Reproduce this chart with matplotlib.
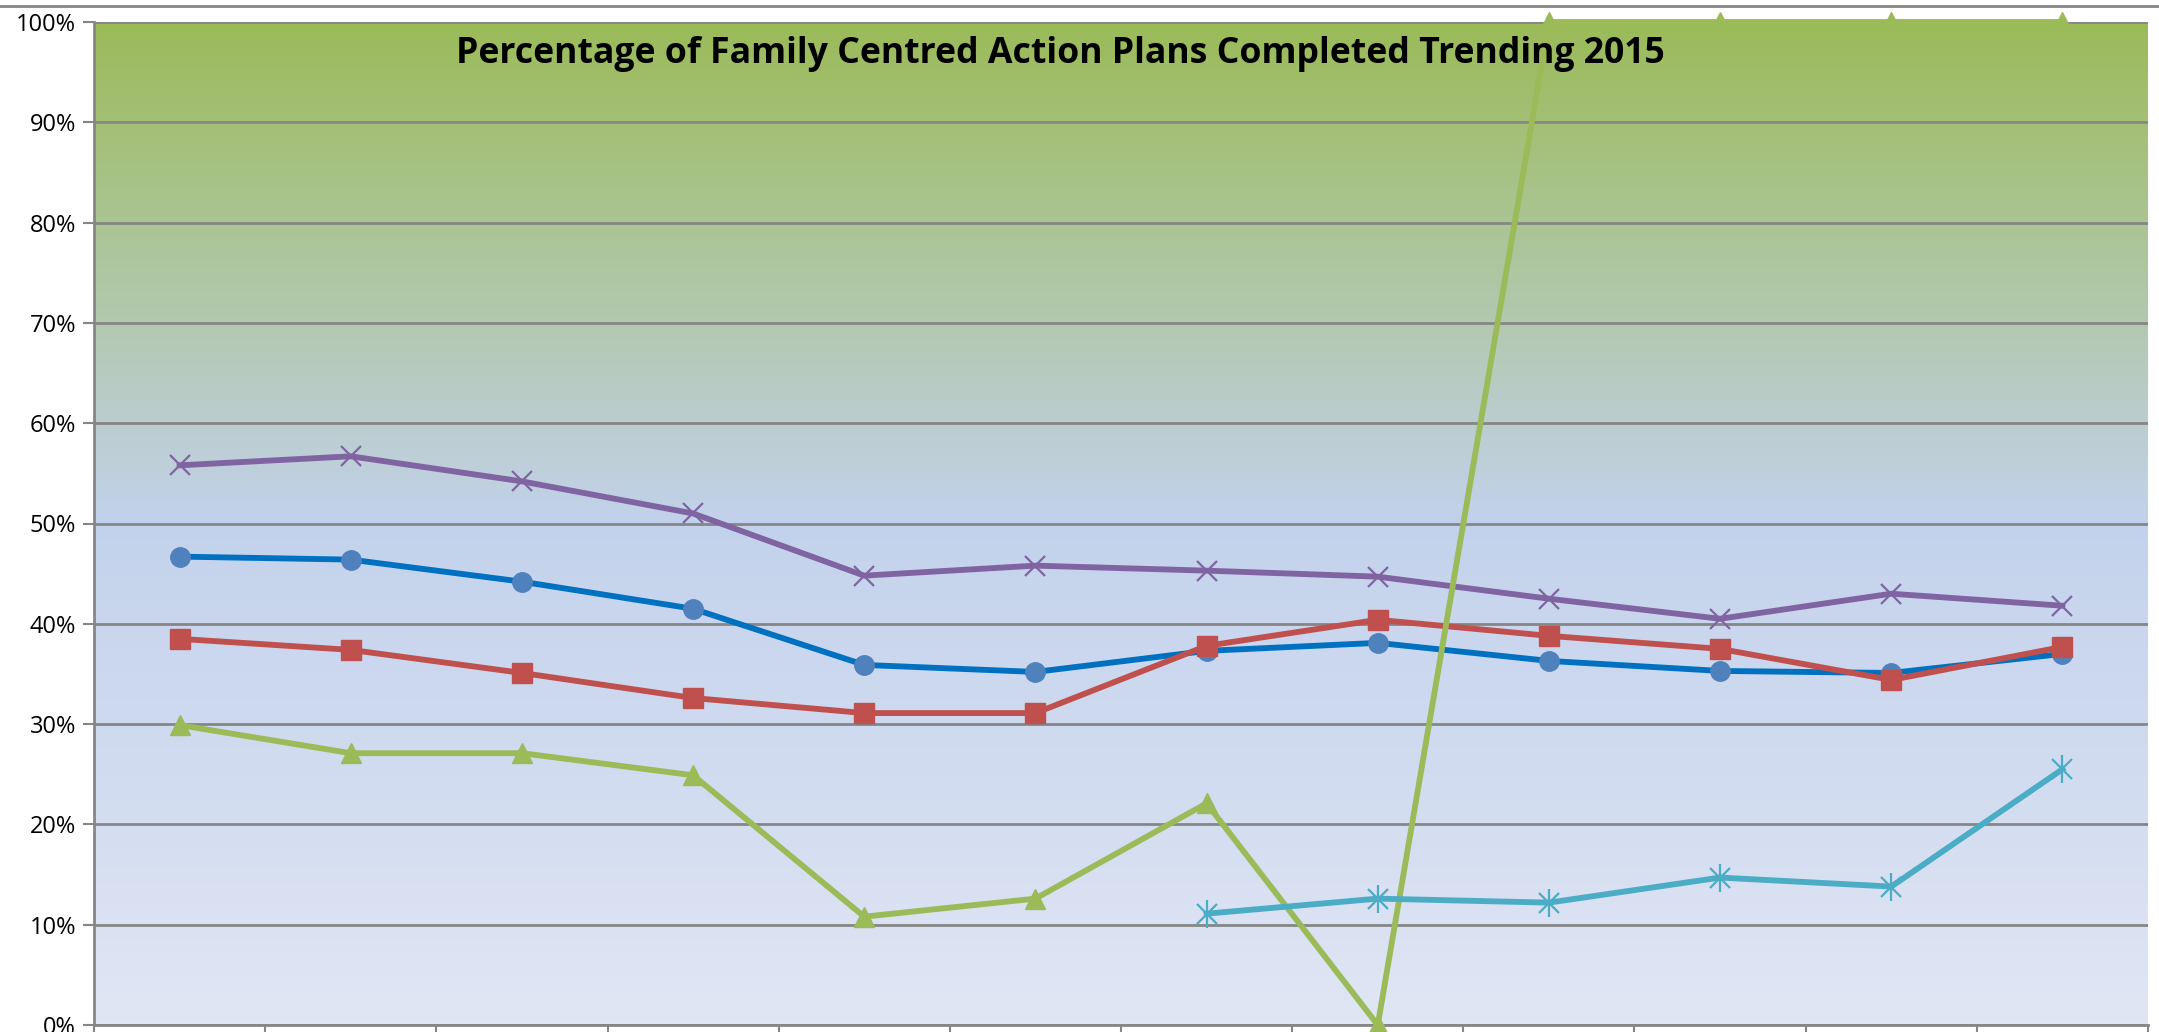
import numpy as np
import matplotlib.pyplot as plt
from matplotlib.colors import LinearSegmentedColormap
from matplotlib.lines import Line2D

months = ["Jan", "Feb", "Mar", "Apr", "May", "Jun", "Jul", "Aug", "Sep", "Oct", "Nov", "Dec"]

# values in percent
blue = [46.7, 46.4, 44.2, 41.5, 35.9, 35.2, 37.3, 38.1, 36.3, 35.3, 35.1, 37.0]
red = [38.5, 37.4, 35.1, 32.6, 31.1, 31.1, 37.8, 40.4, 38.8, 37.5, 34.4, 37.7]
green = [29.9, 27.1, 27.1, 24.9, 10.8, 12.6, 22.1, 0.0, 100, 100, 100, 100]
purple = [55.8, 56.7, 54.2, 51.0, 44.8, 45.8, 45.3, 44.7, 42.5, 40.5, 43.0, 41.8]
cyan = [None, None, None, None, None, None, 11.1, 12.6, 12.2, 14.7, 13.8, 25.5]

title = "Percentage of Family Centred Action Plans Completed Trending 2015"

plt.rcParams['font.family'] = ['Open Sans', 'DejaVu Sans']

W, H = 2159, 1032
fig = plt.figure(figsize=(W / 100, H / 100), dpi=100)
fig.patch.set_facecolor("white")
ax = fig.add_axes([94 / W, (H - 1025) / H, (2148 - 94) / W, (1025 - 22) / H])

x = np.arange(len(months))
ax.set_xlim(-0.5, len(months) - 0.5)
ax.set_ylim(0, 100)

# background gradient, green at top to pale blue at bottom
cmap = LinearSegmentedColormap.from_list(
    "bg", [(0.0, "#E0E6F4"), (0.5, "#C3D2EC"), (1.0, "#9BBB59")])
grad = np.linspace(0, 1, 256).reshape(-1, 1)
ax.imshow(grad, cmap=cmap, origin="lower", aspect="auto",
          extent=[-0.5, len(months) - 0.5, 0, 100], zorder=0)

ax.set_yticks(np.arange(0, 101, 10))
ax.set_yticklabels([f"{v}%" for v in range(0, 101, 10)], fontsize=17)
ax.set_xticks(np.arange(-0.5, len(months), 1))
ax.set_xticklabels([])
ax.tick_params(axis="both", direction="out", length=8, width=1.5, color="#868686", pad=5)
ax.grid(axis="y", color="#868686", linewidth=2, zorder=1)
ax.set_axisbelow(False)
for s in ["top", "right"]:
    ax.spines[s].set_visible(False)
for s in ["left", "bottom"]:
    ax.spines[s].set_color("#868686")
    ax.spines[s].set_linewidth(2)

lw = 4.2
ax.plot(x, blue, color="#0070C0", lw=lw, marker="o", ms=14, mfc="#4F81BD", mec="#4F81BD",
        zorder=3, clip_on=False)
ax.plot(x, red, color="#C0504D", lw=lw, marker="s", ms=14, mfc="#C0504D", mec="#C0504D",
        zorder=4, clip_on=False)
ax.plot(x, purple, color="#8064A2", lw=lw, marker="x", ms=14, mew=1.6, mec="#8064A2",
        zorder=5, clip_on=False)
ax.plot(x, green, color="#9BBB59", lw=lw, marker="^", ms=15, mfc="#9BBB59", mec="#9BBB59",
        zorder=6, clip_on=False)
cy = np.array([np.nan if v is None else v for v in cyan])
ax.plot(x, cy, color="#4BACC6", lw=lw, zorder=7, clip_on=False)
ax.plot(x, cy, ls="none", marker="x", ms=14, mew=1.6, mec="#4BACC6", zorder=8, clip_on=False)
ax.plot(x, cy, ls="none", marker="|", ms=20, mew=1.6, mec="#4BACC6", zorder=8, clip_on=False)

# fit title width to reference
t = fig.text(1060 / W, (H - 54) / H, title, ha="center", va="center",
             fontsize=22, fontweight="bold", color="black")
fig.canvas.draw()
w = t.get_window_extent().width
t.set_fontsize(22 * 1207 / w)

fig.add_artist(Line2D([0, 1], [(H - 6) / H] * 2, color="#868686", lw=2))

fig.savefig("out.png", dpi=100)
